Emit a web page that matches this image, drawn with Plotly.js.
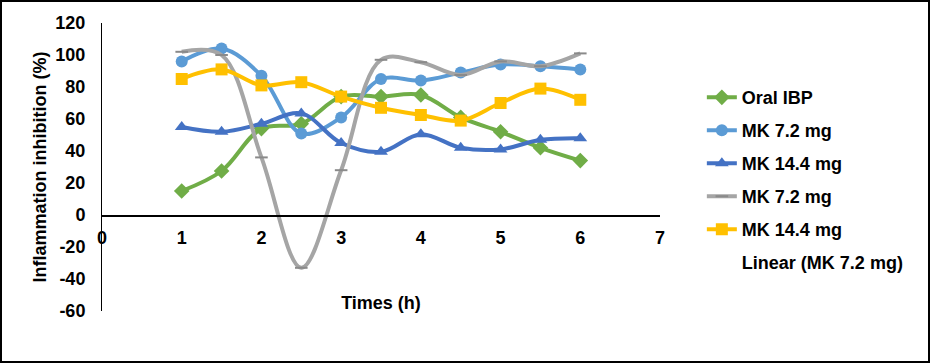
<!DOCTYPE html>
<html>
<head>
<meta charset="utf-8">
<script src="https://cdn.plot.ly/plotly-3.0.1.min.js"></script>
<style>
  html, body { margin: 0; padding: 0; background: #fff; }
  #wrap { position: relative; width: 932px; height: 363px; overflow: hidden; }
  #chart { position: absolute; left: 0; top: 0; width: 932px; height: 363px; }
  #frame { position: absolute; left: 0; top: 0; width: 930px; height: 363px; box-sizing: border-box; border: 2px solid #000; pointer-events: none; }
</style>
</head>
<body>
<div id="wrap"><div id="chart"></div><div id="frame"></div></div>
<script>
// Time points (h)
const times = [1, 1.5, 2, 2.5, 3, 3.5, 4, 4.5, 5, 5.5, 6];

// Series values (inflammation inhibition, %)
const oralIBP   = [15, 27.5, 54, 57, 74, 74, 75, 61, 52, 42, 34];
const mk72      = [96, 104, 87, 51, 61, 85, 84, 89, 94, 93, 91];
const mk144     = [55, 52, 57, 63.5, 45, 39.5, 50.5, 42, 41, 47, 48];
const mk72b     = [102, 100, 36, -33, 28, 97, 95.5, 87.5, 96, 93, 101];
const mk144b    = [85, 91, 81, 83, 74, 67, 62.5, 59, 70, 79, 72];

// Names
const seriesNames = ['Oral IBP', 'MK 7.2 mg', 'MK 14.4 mg', 'MK 7.2 mg', 'MK 14.4 mg', 'Linear (MK 7.2 mg)'];

// Tick labels
const yTickVals = [-60, -40, -20, 0, 20, 40, 60, 80, 100, 120];
const yTickText = ['-60', '-40', '-20', '0', '20', '40', '60', '80', '100', '120'];
const xTickVals = [0, 1, 2, 3, 4, 5, 6, 7];
const xTickText = ['0', '1', '2', '3', '4', '5', '6', '7'];

const FONT = 'Liberation Sans, Arial, sans-serif';
const LW = 4;

function series(y, name, color, symbol, size, group, extra) {
  const t = {
    x: times, y: y, name: name, type: 'scatter', mode: 'lines+markers',
    legendgroup: group,
    line: { color: color, width: LW, shape: 'spline', smoothing: 1 },
    marker: { color: color, symbol: symbol, size: size }
  };
  return Object.assign(t, extra || {});
}

const traces = [
  series(oralIBP, seriesNames[0], '#70AD47', 'diamond', 12, 'g1'),
  series(mk72, seriesNames[1], '#5B9BD5', 'circle', 12, 'g2'),
  series(mk144, seriesNames[2], '#4472C4', 'triangle-up', 12, 'g3'),
  series(mk72b, seriesNames[3], '#A5A5A5', 'line-ew-open', 9, 'g4', {
    marker: { color: '#8a8a8a', symbol: 'line-ew-open', size: 9, line: { color: '#8a8a8a', width: 2 } }
  }),
  series(mk144b, seriesNames[4], '#FFC000', 'square', 12, 'g5'),
  // Trendline entry (its line is not visible in the reference)
  { x: [null], y: [null], name: seriesNames[5], type: 'scatter', mode: 'lines', legendgroup: 'g6',
    line: { color: 'rgba(0,0,0,0)', width: 0 } }
];

const layout = {
  width: 932, height: 363,
  margin: { l: 102, r: 272, t: 23, b: 52 },
  paper_bgcolor: '#fff', plot_bgcolor: '#fff',
  font: { family: FONT, size: 18, color: '#000', weight: 'bold' },
  showlegend: true,
  legend: {
    x: 1.075, xanchor: 'left', y: 0.805, yanchor: 'top',
    traceorder: 'grouped', tracegroupgap: 6.6,
    font: { family: FONT, size: 18, color: '#000', weight: 'bold' },
    bgcolor: 'rgba(0,0,0,0)'
  },
  xaxis: {
    range: [0, 7], anchor: 'free', position: 1/3,
    tickmode: 'array', tickvals: xTickVals, ticktext: xTickText,
    showline: true, linecolor: '#000', linewidth: 1.5,
    showgrid: false, zeroline: false, ticks: '',
    ticklabelstandoff: 6,
    tickfont: { family: FONT, size: 18, color: '#000', weight: 'bold' },
    title: { text: 'Times (h)', standoff: 49, font: { family: FONT, size: 18, color: '#000', weight: 'bold' } },
    automargin: false
  },
  yaxis: {
    range: [-60, 120],
    tickmode: 'array', tickvals: yTickVals, ticktext: yTickText,
    showline: true, linecolor: '#000', linewidth: 1,
    showgrid: false, zeroline: false, ticks: '',
    ticklabelstandoff: 12,
    tickfont: { family: FONT, size: 18, color: '#000', weight: 'bold' },
    title: { text: 'Inflammation inhibition (%)', standoff: 4, font: { family: FONT, size: 18, color: '#000', weight: 'bold' } },
    automargin: false
  }
};

Plotly.newPlot('chart', traces, layout, { displayModeBar: false, staticPlot: true });
</script>
</body>
</html>
